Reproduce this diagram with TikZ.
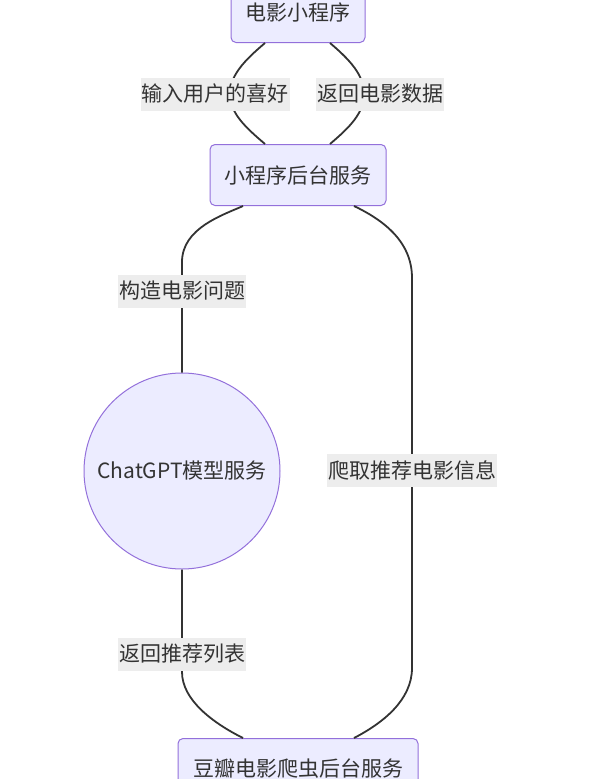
\documentclass[tikz,border=0pt]{standalone}
\usepackage{fontspec}
\setmainfont{Noto Sans CJK SC}
\usepackage{xcolor}
\usepackage{tikz}
\usetikzlibrary{shapes.geometric, positioning, calc}
\definecolor{nodefill}{RGB}{236, 236, 255}
\definecolor{nodeborder}{RGB}{147, 112, 219}
\definecolor{linkgray}{RGB}{51, 51, 51}
\definecolor{labelgray}{RGB}{237, 237, 237}

\begin{document}
\begin{tikzpicture}[
        x=1pt, y=-1pt,
        font=\fontsize{21}{24}\selectfont, text=linkgray,
        box/.style={rectangle, draw=nodeborder, fill=nodefill, line width=1pt, minimum height=61pt, align=center, rounded corners=5pt},
        service/.style={circle, draw=nodeborder, fill=nodefill, line width=1pt, minimum size=196pt, inner sep=2pt},
        link/.style={draw=linkgray, line width=1.8pt},
        edgelabel/.style={rectangle, fill=labelgray, inner xsep=1pt, inner ysep=0pt, minimum height=33pt}
    ]
        \useasboundingbox[fill=white] (0,0) rectangle (596,779);

        % Nodes
        \node[box, minimum width=134pt] (miniapp) at (298,12) {电影小程序};
        \node[box, minimum width=176pt, below=101pt of miniapp] (backend) {小程序后台服务};
        \node[service] (chatgpt) at (182,471) {ChatGPT模型服务};
        \node[box, minimum width=240pt, below=532pt of backend] (crawler) {豆瓣电影爬虫后台服务};

        % Links
        \draw[link] ([xshift=-33pt]miniapp.south) .. controls +(-20,17) and +(0,-19) .. (230,94)
            node[edgelabel, xshift=-15pt] (likes) {输入用户的喜好}
            .. controls +(0,19) and +(-20,-17) .. ([xshift=-33pt]backend.north);
        \draw[link] ([xshift=32pt]miniapp.south) .. controls +(20,17) and +(0,-19) .. (364,94)
            node[edgelabel, xshift=16pt] (moviedata) {返回电影数据}
            .. controls +(0,19) and +(20,-17) .. ([xshift=32pt]backend.north);
        \draw[link] ([xshift=-55pt]backend.south) .. controls +(-20,9) and +(0,-34) .. (182,262)
            -- (182,291) node[edgelabel] (question) {构造电影问题} -- (chatgpt.north);
        \draw[link] ([xshift=56pt]backend.south) .. controls +(27,13) and +(0,-38) .. (412,278)
            -- (412,470) node[edgelabel] (fetch) {爬取推荐电影信息} -- (412,668)
            .. controls +(0,32) and +(29,-15) .. ([xshift=56pt]crawler.north);
        \draw[link] (chatgpt.south) -- (182,654) node[edgelabel] (reclist) {返回推荐列表} -- (182,672)
            .. controls +(0,28) and +(-30,-15) .. ([xshift=-55pt]crawler.north);
    \end{tikzpicture}
\end{document}
